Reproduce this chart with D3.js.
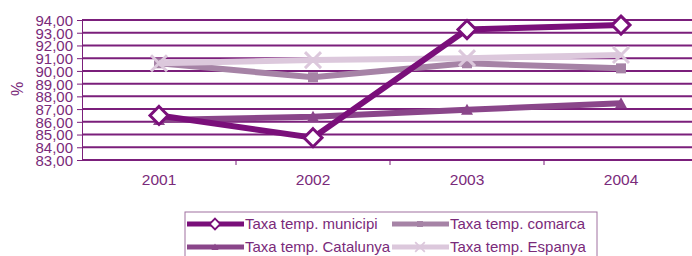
<!DOCTYPE html>
<html>
<head>
<meta charset="utf-8">
<script src="https://cdn.jsdelivr.net/npm/d3@7"></script>
<style>
body { margin: 0; background: #fff; }
text { font-family: "Liberation Sans", Arial, sans-serif; }
</style>
</head>
<body>
<script>
var years = ["2001", "2002", "2003", "2004"];
var municipi = [86.5, 84.75, 93.25, 93.6];
var comarca = [90.6, 89.5, 90.6, 90.2];
var catalunya = [86.15, 86.4, 86.95, 87.45];
var espanya = [90.6, 90.85, 91.0, 91.25];
var yTicks = [83, 84, 85, 86, 87, 88, 89, 90, 91, 92, 93, 94];

var series = [
  {name: "Taxa temp. municipi", values: municipi, color: "#7a0f7a", marker: "diamond"},
  {name: "Taxa temp. comarca", values: comarca, color: "#a683a6", marker: "square"},
  {name: "Taxa temp. Catalunya", values: catalunya, color: "#8a468a", marker: "triangle"},
  {name: "Taxa temp. Espanya", values: espanya, color: "#dcc8dc", marker: "cross"}
];
var drawOrder = [1, 3, 2, 0];

var svg = d3.select("body").append("svg")
  .attr("width", 692).attr("height", 256);

var x = d3.scaleBand().domain(years).range([82, 698]);
var y = d3.scaleLinear().domain([83, 94]).range([160, 20]);
var grid = "#7b1f7b";
var textColor = "#7a2a7a";

// gridlines
svg.append("g").selectAll("line")
  .data(yTicks)
  .enter().append("line")
    .attr("x1", 82).attr("x2", 692)
    .attr("y1", function(d) { return y(d); })
    .attr("y2", function(d) { return y(d); })
    .attr("stroke", grid)
    .attr("stroke-width", 2);

// axes
var yAxis = svg.append("g")
  .attr("transform", "translate(82,0)")
  .call(d3.axisLeft(y).tickValues(yTicks).tickSize(5).tickPadding(4)
    .tickFormat(function(d) { return d3.format(".2f")(d).replace(".", ","); }));
yAxis.select(".domain").attr("stroke", grid);
yAxis.selectAll(".tick line").attr("stroke", grid);
yAxis.selectAll("text").attr("fill", textColor).style("font-size", "15px")
  .attr("dy", "0.36em");

var xAxis = svg.append("g")
  .attr("transform", "translate(0,160)")
  .call(d3.axisBottom(x).tickSize(0).tickPadding(14));
xAxis.select(".domain").remove();
xAxis.selectAll("text").attr("fill", textColor).style("font-size", "15.5px");
svg.append("g").selectAll("line")
  .data(years.slice(1))
  .enter().append("line")
    .attr("x1", function(d) { return x(d); })
    .attr("x2", function(d) { return x(d); })
    .attr("y1", 160).attr("y2", 165)
    .attr("stroke", grid);

svg.append("text")
  .attr("transform", "translate(23,89) rotate(-90)")
  .attr("text-anchor", "middle")
  .attr("fill", textColor)
  .style("font-size", "16px")
  .text("%");

function markerPath(type) {
  if (type === "diamond") return "M0,-9L9,0L0,9L-9,0Z";
  if (type === "square") return "M-5,-5H5V5H-5Z";
  if (type === "triangle") return "M0,-6L6,5H-6Z";
  return "M-8,-8L8,8M-8,8L8,-8";
}
function drawMarker(g, type, color) {
  var p = g.append("path").attr("d", markerPath(type));
  if (type === "diamond") p.attr("fill", "#fff").attr("stroke", color).attr("stroke-width", 3);
  else if (type === "cross") p.attr("fill", "none").attr("stroke", color).attr("stroke-width", 3);
  else p.attr("fill", color);
}

var line = d3.line()
  .x(function(d, i) { return x(years[i]) + x.bandwidth() / 2; })
  .y(function(d) { return y(d); });

drawOrder.forEach(function(k) {
  var s = series[k];
  svg.append("path")
    .attr("d", line(s.values))
    .attr("fill", "none")
    .attr("stroke", s.color)
    .attr("stroke-width", 6);
  s.values.forEach(function(v, i) {
    var g = svg.append("g")
      .attr("transform", "translate(" + (x(years[i]) + x.bandwidth() / 2) + "," + y(v) + ")");
    drawMarker(g, s.marker, s.color);
  });
});

// legend
var legend = svg.append("g");
legend.append("rect")
  .attr("x", 185).attr("y", 212).attr("width", 412).attr("height", 50)
  .attr("fill", "#fff").attr("stroke", "#a070a0");
var legX = [187, 392], legY = [224, 247];
series.forEach(function(s, i) {
  var lx = legX[i % 2], ly = legY[Math.floor(i / 2)];
  legend.append("line")
    .attr("x1", lx).attr("x2", lx + 57)
    .attr("y1", ly).attr("y2", ly)
    .attr("stroke", s.color).attr("stroke-width", 5);
  var g = legend.append("g").attr("transform", "translate(" + (lx + 28) + "," + ly + ") scale(0.6)");
  drawMarker(g, s.marker, s.color);
  legend.append("text")
    .attr("x", lx + 58).attr("y", ly)
    .attr("dy", "0.36em")
    .attr("fill", textColor)
    .style("font-size", "15px")
    .text(s.name);
});
</script>
</body>
</html>
